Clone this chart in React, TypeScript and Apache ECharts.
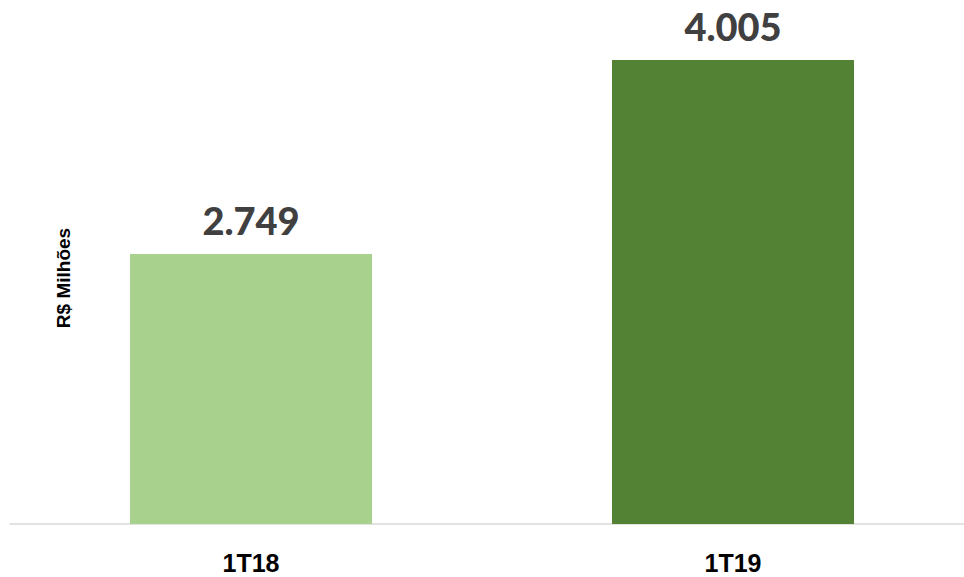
import React, { useEffect, useRef } from "react";
import * as echarts from "echarts";

const categories = ["1T18", "1T19"];
const values = [2749, 4005];
const barColors = ["#A9D18E", "#548235"];
const yAxisTitle = "R$ Milhões";

function fmt(v: number): string {
  return String(v).replace(/\B(?=(\d{3})+(?!\d))/g, ".");
}

export default function App() {
  const ref = useRef<HTMLDivElement>(null);
  useEffect(() => {
    document.body.style.margin = "0";
    document.body.style.overflow = "hidden";
    if (!ref.current) return;
    const chart = echarts.init(ref.current, undefined, { renderer: "svg" });
    chart.setOption({
      animation: false,
      backgroundColor: "#FFFFFF",
      grid: { left: 10, right: 0, top: 30, bottom: 53, containLabel: false },
      xAxis: {
        type: "category",
        data: categories,
        axisLine: { show: true, lineStyle: { color: "#D9D9D9", width: 1.5 } },
        axisTick: { show: false },
        axisLabel: {
          color: "#000000",
          fontFamily: "Liberation Sans",
          fontWeight: "bold",
          fontSize: 25,
          margin: 26,
        },
      },
      yAxis: {
        type: "value",
        min: 1000,
        max: 4200,
        show: false,
        splitLine: { show: false },
      },
      graphic: [
        {
          type: "text",
          x: 63,
          y: 278,
          rotation: Math.PI / 2,
          style: {
            text: yAxisTitle,
            fill: "#000000",
            font: "bold 19px 'Liberation Sans'",
            align: "center",
            verticalAlign: "middle",
          },
        },
      ],
      series: [
        {
          type: "bar",
          barWidth: 242,
          data: values.map((v, i) => ({ value: v, itemStyle: { color: barColors[i] } })),
          label: {
            show: true,
            position: "top",
            distance: 14,
            color: "#404040",
            fontFamily: "Lato",
            fontWeight: 900,
            fontSize: 38,
            lineHeight: 40,
            formatter: (p: any) => fmt(p.value),
          },
        },
      ],
    });
    return () => chart.dispose();
  }, []);
  return (
    <div style={{ width: 964, height: 577, overflow: "hidden" }}>
      <div ref={ref} style={{ width: 974, height: 577 }} />
    </div>
  );
}
